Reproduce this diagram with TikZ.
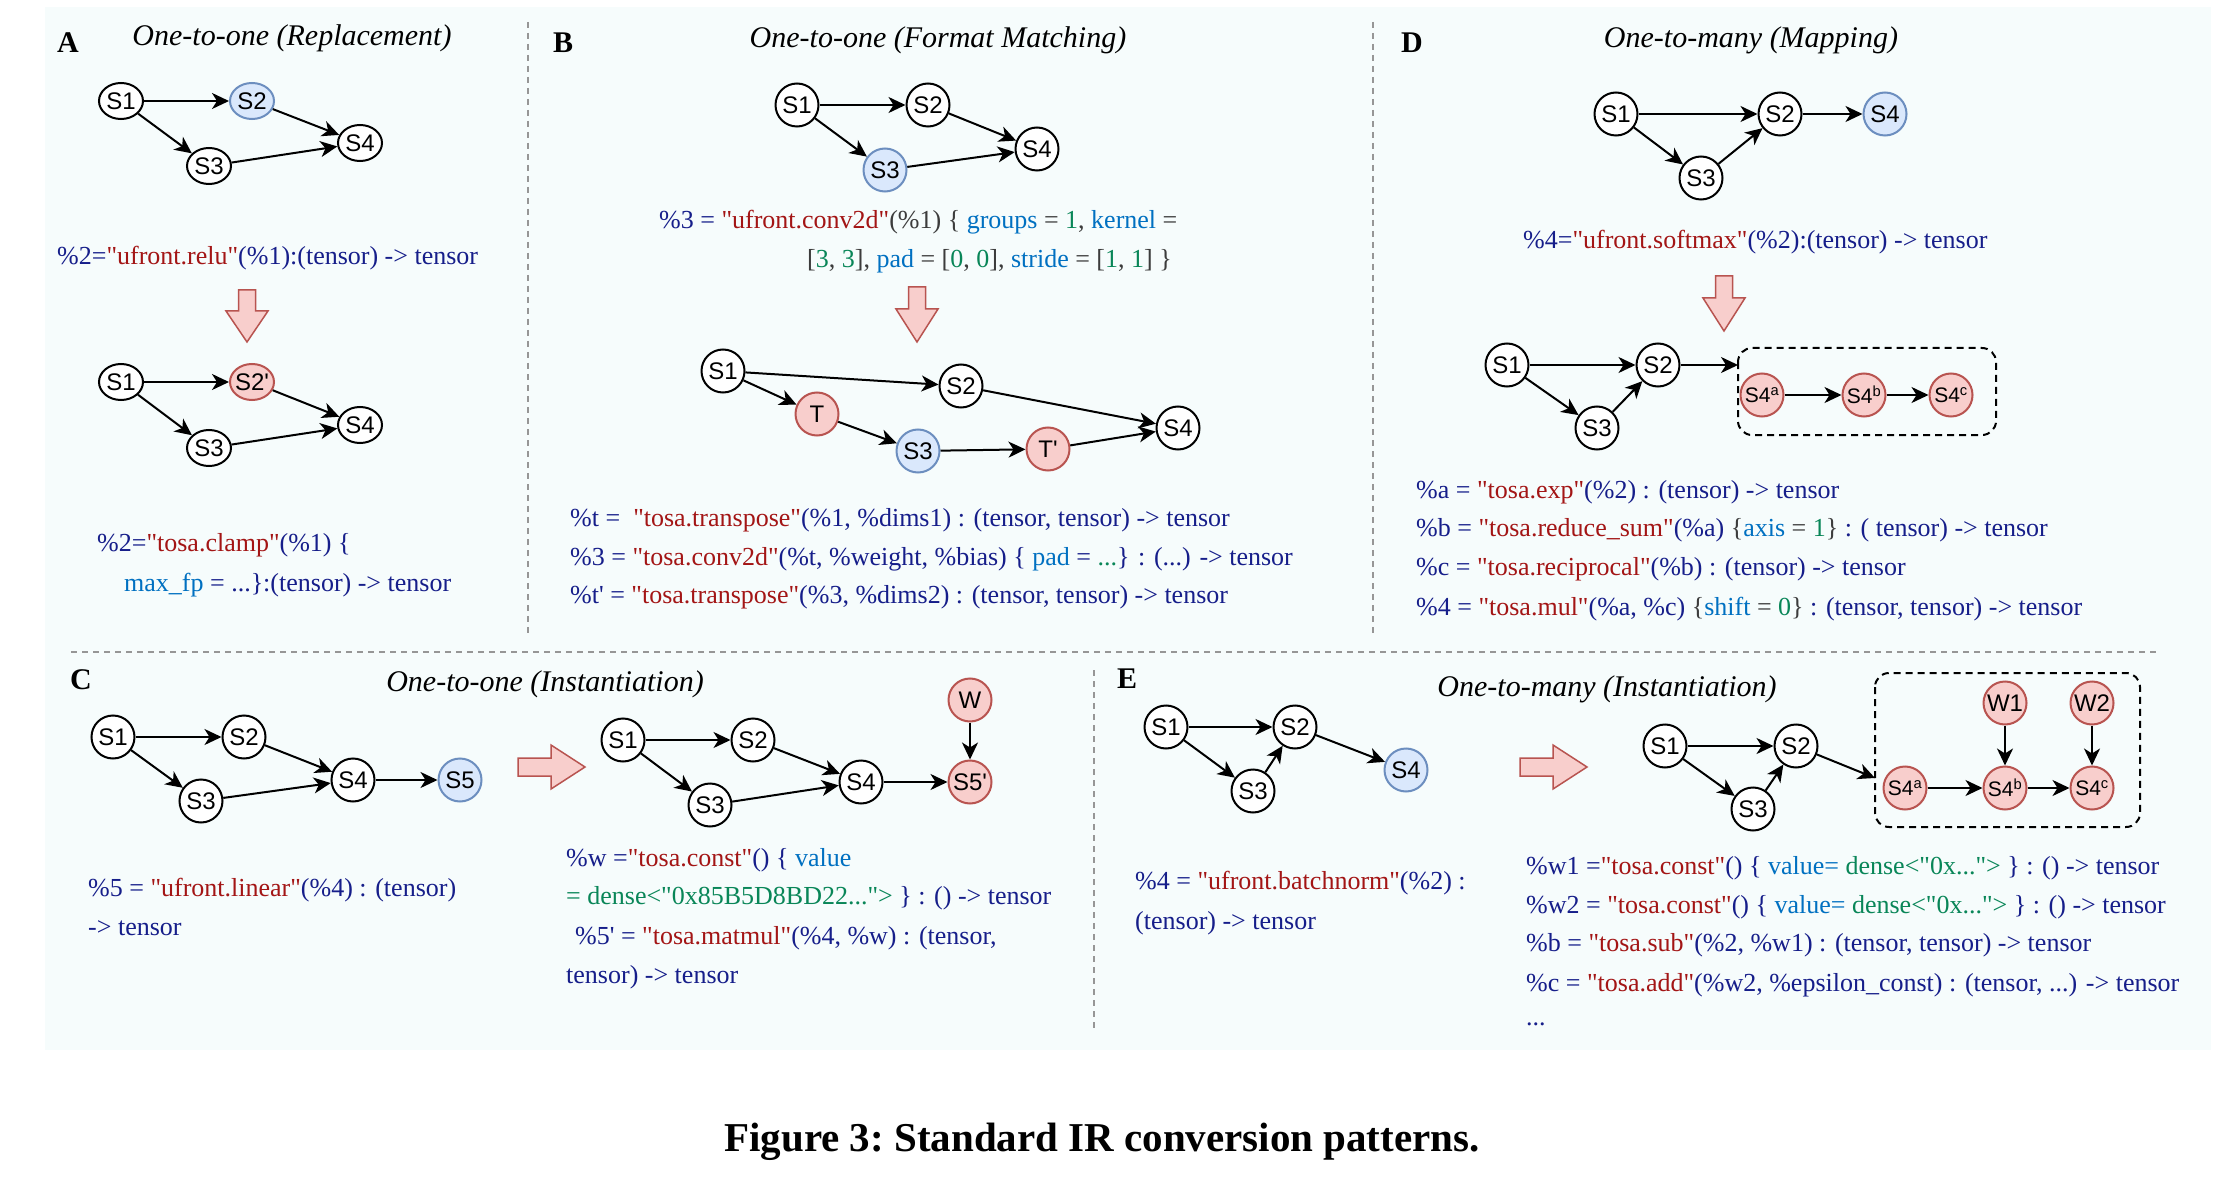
\documentclass[tikz,border=0pt]{standalone}
\usepackage{fontspec}
\setmainfont{Liberation Serif}[Ligatures=TeXOff]
\newfontfamily\nodefont{Liberation Sans}
\usetikzlibrary{arrows.meta,shapes.geometric}

\definecolor{panelbg}{RGB}{246,252,252}
\definecolor{nodeblue}{RGB}{218,232,252}
\definecolor{nodeblueline}{RGB}{108,142,191}
\definecolor{nodered}{RGB}{248,206,204}
\definecolor{noderedline}{RGB}{184,84,80}
\definecolor{sepgray}{RGB}{150,150,150}
\definecolor{varblue}{RGB}{22,30,138}
\definecolor{strred}{RGB}{163,21,21}
\definecolor{keyblue}{RGB}{0,112,193}
\definecolor{numgreen}{RGB}{9,134,88}
\definecolor{pungray}{RGB}{60,60,60}

\newcommand{\cstr}[1]{\textcolor{strred}{#1}}
\newcommand{\ckey}[1]{\textcolor{keyblue}{#1}}
\newcommand{\cnum}[1]{\textcolor{numgreen}{#1}}
\newcommand{\cpun}[1]{\textcolor{pungray}{#1}}

\tikzset{
  opnode/.style={ellipse, draw, line width=2pt, fill=white, minimum width=43pt,
    minimum height=43pt, inner sep=0pt, font=\nodefont\fontsize{24}{28}\selectfont,
    execute at begin node=\hbox to 0pt\bgroup\hss,
    execute at end node=\hss\egroup},
  flatnode/.style={minimum width=44pt, minimum height=36pt},
  partnode/.style={font=\nodefont\fontsize{21}{25}\selectfont},
  bluenode/.style={fill=nodeblue, draw=nodeblueline},
  rednode/.style={fill=nodered, draw=noderedline},
  flow/.style={line width=2pt, -{Stealth[length=17pt,width=16pt,inset=5pt]}},
  code/.style={anchor=west, inner sep=0pt, text=varblue, font=\fontsize{26}{31}\selectfont},
  paneltitle/.style={font=\itshape\fontsize{30}{36}\selectfont},
  panelletter/.style={font=\bfseries\fontsize{30}{36}\selectfont},
  sepline/.style={draw=sepgray, line width=1.5pt, dash pattern=on 6pt off 5pt},
  groupbox/.style={draw, line width=2pt, dash pattern=on 7pt off 5pt, rounded corners=14pt},
  bigarrow/.style={fill=nodered, draw=noderedline, line width=1.5pt},
}

\begin{document}
\begin{tikzpicture}[x=1pt,y=-1pt]
  \useasboundingbox (0,0) rectangle (2236,1190);
  \fill[panelbg] (45,7) rectangle (2211,1050);

  % Drawing separators
  \draw[sepline] (528,22) -- (528,635);
  \draw[sepline] (1373,22) -- (1373,635);
  \draw[sepline] (71,652) -- (2158,652);
  \draw[sepline] (1094,670) -- (1094,1030);

  % Panel A: one-to-one replacement
  \node[panelletter] (lA) at (68,43) {A};
  \node[paneltitle] (tA) at (292,38) {One-to-one (Replacement)};
  \node[opnode,flatnode] (a1) at (121,101) {S1};
  \node[opnode,flatnode,bluenode] (a2) at (252,101) {S2};
  \node[opnode,flatnode] (a4) at (360,143) {S4};
  \node[opnode,flatnode] (a3) at (209,166) {S3};
  \draw[flow] (a1) -- (a2);
  \draw[flow] (a1) -- (a3);
  \draw[flow] (a2) -- (a4);
  \draw[flow] (a3) -- (a4);
  \node[code] (ca1) at (57,258) {\%2=\cstr{"ufront.relu"}(\%1):(tensor) -> tensor};
  \draw[bigarrow] (238.5,290) -- ++(17,0) -- ++(0,21) -- ++(12.5,0) -- ++(-21,31)
    -- ++(-21,-31) -- ++(12.5,0) -- cycle;
  \node[opnode,flatnode] (ar1) at (121,382) {S1};
  \node[opnode,flatnode,rednode] (ar2) at (252,382) {S2\textquotesingle};
  \node[opnode,flatnode] (ar4) at (360,425) {S4};
  \node[opnode,flatnode] (ar3) at (209,448) {S3};
  \draw[flow] (ar1) -- (ar2);
  \draw[flow] (ar1) -- (ar3);
  \draw[flow] (ar2) -- (ar4);
  \draw[flow] (ar3) -- (ar4);
  \node[code] (ca2) at (97,545) {\%2=\cstr{"tosa.clamp"}(\%1) \{};
  \node[code] (ca3) at (124,585) {\ckey{max\_fp} = ...\}:(tensor) -> tensor};

  % Panel B: one-to-one format matching
  \node[panelletter] (lB) at (563,43) {B};
  \node[paneltitle] (tB) at (938,40) {One-to-one (Format Matching)};
  \node[opnode] (b1) at (797,105) {S1};
  \node[opnode] (b2) at (928,105) {S2};
  \node[opnode] (b4) at (1037,149) {S4};
  \node[opnode,bluenode] (b3) at (885,170) {S3};
  \draw[flow] (b1) -- (b2);
  \draw[flow] (b1) -- (b3);
  \draw[flow] (b2) -- (b4);
  \draw[flow] (b3) -- (b4);
  \node[code] (cb1) at (659,222) {\%3 = \cstr{"ufront.conv2d"}\cpun{(\%1) \{} \ckey{groups} \cpun{=} \cnum{1}\cpun{,} \ckey{kernel} \cpun{=}};
  \node[code] (cb2) at (807,261) {\cpun{[}\cnum{3}\cpun{,} \cnum{3}\cpun{],} \ckey{pad} \cpun{= [}\cnum{0}\cpun{,} \cnum{0}\cpun{],} \ckey{stride} \cpun{= [}\cnum{1}\cpun{,} \cnum{1}\cpun{] \}}};
  \draw[bigarrow] (908.5,287) -- ++(17,0) -- ++(0,22) -- ++(12.5,0) -- ++(-21,33)
    -- ++(-21,-33) -- ++(12.5,0) -- cycle;
  \node[opnode] (br1) at (723,371) {S1};
  \node[opnode,rednode] (brt) at (817,414) {T};
  \node[opnode] (br2) at (961,386) {S2};
  \node[opnode,bluenode] (br3) at (918,451) {S3};
  \node[opnode,rednode] (brtp) at (1048,449) {T\textquotesingle};
  \node[opnode] (br4) at (1178,428) {S4};
  \draw[flow] (br1) -- (br2);
  \draw[flow] (br1) -- (brt);
  \draw[flow] (brt) -- (br3);
  \draw[flow] (br3) -- (brtp);
  \draw[flow] (brtp) -- (br4);
  \draw[flow] (br2) -- (br4);
  \node[code] (cb3) at (570,520) {\%t =\ \ \cstr{"tosa.transpose"}(\%1, \%dims1) : (tensor, tensor) -> tensor};
  \node[code] (cb4) at (570,559) {\%3 = \cstr{"tosa.conv2d"}(\%t, \%weight, \%bias) \{ \ckey{pad} = \cnum{...}\} : (...) -> tensor};
  \node[code] (cb5) at (570,597) {\%t\textquotesingle{} = \cstr{"tosa.transpose"}(\%3, \%dims2) : (tensor, tensor) -> tensor};

  % Panel D: one-to-many mapping
  \node[panelletter] (lD) at (1412,43) {D};
  \node[paneltitle] (tD) at (1751,40) {One-to-many (Mapping)};
  \node[opnode] (d1) at (1616,114) {S1};
  \node[opnode] (d2) at (1780,114) {S2};
  \node[opnode,bluenode] (d4) at (1885,114) {S4};
  \node[opnode] (d3) at (1701,178) {S3};
  \draw[flow] (d1) -- (d2);
  \draw[flow] (d1) -- (d3);
  \draw[flow] (d3) -- (d2);
  \draw[flow] (d2) -- (d4);
  \node[code] (cd1) at (1523,242) {\%4=\cstr{"ufront.softmax"}(\%2):(tensor) -> tensor};
  \draw[bigarrow] (1715.5,276) -- ++(17,0) -- ++(0,22) -- ++(12.5,0) -- ++(-21,33)
    -- ++(-21,-33) -- ++(12.5,0) -- cycle;
  \node[opnode] (dr1) at (1507,365) {S1};
  \node[opnode] (dr2) at (1658,365) {S2};
  \node[opnode] (dr3) at (1597,428) {S3};
  \draw[groupbox] (1738,348) rectangle (1996,435);
  \coordinate (dIn) at (1738,365);
  \node[opnode,rednode,partnode] (dra) at (1762,395) {S4\textsuperscript{a}};
  \node[opnode,rednode,partnode] (drb) at (1864,395) {S4\textsuperscript{b}};
  \node[opnode,rednode,partnode] (drc) at (1951,395) {S4\textsuperscript{c}};
  \draw[flow] (dr1) -- (dr2);
  \draw[flow] (dr1) -- (dr3);
  \draw[flow] (dr3) -- (dr2);
  \draw[flow] (dr2) -- (dIn);
  \draw[flow] (dra) -- (drb);
  \draw[flow] (drb) -- (drc);
  \node[code] (cd2) at (1416,492) {\%a = \cstr{"tosa.exp"}(\%2) : (tensor) -> tensor};
  \node[code] (cd3) at (1416,530) {\%b = \cstr{"tosa.reduce\_sum"}(\%a) \cpun{\{}\ckey{axis} \cpun{=} \cnum{1}\cpun{\}} : ( tensor) -> tensor};
  \node[code] (cd4) at (1416,569) {\%c = \cstr{"tosa.reciprocal"}(\%b) : (tensor) -> tensor};
  \node[code] (cd5) at (1416,609) {\%4 = \cstr{"tosa.mul"}(\%a, \%c) \cpun{\{}\ckey{shift} \cpun{=} \cnum{0}\cpun{\}} : (tensor, tensor) -> tensor};

  % Panel C: one-to-one instantiation
  \node[panelletter] (lC) at (81,680) {C};
  \node[paneltitle] (tC) at (545,684) {One-to-one (Instantiation)};
  \node[opnode] (c1) at (113,737) {S1};
  \node[opnode] (c2) at (244,737) {S2};
  \node[opnode] (c4) at (353,780) {S4};
  \node[opnode] (c3) at (201,801) {S3};
  \node[opnode,bluenode] (c5) at (460,780) {S5};
  \draw[flow] (c1) -- (c2);
  \draw[flow] (c1) -- (c3);
  \draw[flow] (c2) -- (c4);
  \draw[flow] (c3) -- (c4);
  \draw[flow] (c4) -- (c5);
  \draw[bigarrow] (518,758) -- ++(33,0) -- ++(0,-13) -- ++(34,22) -- ++(-34,22)
    -- ++(0,-13) -- ++(-33,0) -- cycle;
  \node[opnode] (cr1) at (623,740) {S1};
  \node[opnode] (cr2) at (753,740) {S2};
  \node[opnode] (cr4) at (861,782) {S4};
  \node[opnode] (cr3) at (710,805) {S3};
  \node[opnode,rednode] (cr5) at (970,782) {S5\textquotesingle};
  \node[opnode,rednode] (crw) at (970,700) {W};
  \draw[flow] (cr1) -- (cr2);
  \draw[flow] (cr1) -- (cr3);
  \draw[flow] (cr2) -- (cr4);
  \draw[flow] (cr3) -- (cr4);
  \draw[flow] (cr4) -- (cr5);
  \draw[flow] (crw) -- (cr5);
  \node[code] (cc1) at (88,890) {\%5 = \cstr{"ufront.linear"}(\%4) : (tensor)};
  \node[code] (cc2) at (88,928) {-> tensor};
  \node[code] (cc3) at (566,860) {\%w =\cstr{"tosa.const"}() \{ \ckey{value}};
  \node[code] (cc4) at (566,898) {\cnum{= dense<"0x85B5D8BD22...">} \} : () -> tensor};
  \node[code] (cc5) at (575,938) {\%5\textquotesingle{} = \cstr{"tosa.matmul"}(\%4, \%w) : (tensor,};
  \node[code] (cc6) at (566,977) {tensor) -> tensor};

  % Panel E: one-to-many instantiation
  \node[panelletter] (lE) at (1127,679) {E};
  \node[paneltitle] (tE) at (1607,689) {One-to-many (Instantiation)};
  \node[opnode] (e1) at (1166,727) {S1};
  \node[opnode] (e2) at (1295,727) {S2};
  \node[opnode] (e3) at (1253,791) {S3};
  \node[opnode,bluenode] (e4) at (1406,770) {S4};
  \draw[flow] (e1) -- (e2);
  \draw[flow] (e1) -- (e3);
  \draw[flow] (e3) -- (e2);
  \draw[flow] (e2) -- (e4);
  \draw[bigarrow] (1520,758) -- ++(33,0) -- ++(0,-13) -- ++(34,22) -- ++(-34,22)
    -- ++(0,-13) -- ++(-33,0) -- cycle;
  \node[opnode] (er1) at (1665,746) {S1};
  \node[opnode] (er2) at (1796,746) {S2};
  \node[opnode] (er3) at (1753,809) {S3};
  \draw[groupbox] (1875,673) rectangle (2140,827);
  \coordinate (eIn) at (1875,778);
  \node[opnode,rednode] (erw1) at (2005,703) {W1};
  \node[opnode,rednode] (erw2) at (2092,703) {W2};
  \node[opnode,rednode,partnode] (era) at (1905,788) {S4\textsuperscript{a}};
  \node[opnode,rednode,partnode] (erb) at (2005,788) {S4\textsuperscript{b}};
  \node[opnode,rednode,partnode] (erc) at (2092,788) {S4\textsuperscript{c}};
  \draw[flow] (er1) -- (er2);
  \draw[flow] (er1) -- (er3);
  \draw[flow] (er3) -- (er2);
  \draw[flow] (er2) -- (eIn);
  \draw[flow] (era) -- (erb);
  \draw[flow] (erb) -- (erc);
  \draw[flow] (erw1) -- (erb);
  \draw[flow] (erw2) -- (erc);
  \node[code] (ce1) at (1135,883) {\%4 = \cstr{"ufront.batchnorm"}(\%2) :};
  \node[code] (ce2) at (1135,923) {(tensor) -> tensor};
  \node[code] (ce3) at (1526,868) {\%w1 =\cstr{"tosa.const"}() \{ \ckey{value=} \cnum{dense<"0x...">} \} : () -> tensor};
  \node[code] (ce4) at (1526,907) {\%w2 = \cstr{"tosa.const"}() \{ \ckey{value=} \cnum{dense<"0x...">} \} : () -> tensor};
  \node[code] (ce5) at (1526,945) {\%b = \cstr{"tosa.sub"}(\%2, \%w1) : (tensor, tensor) -> tensor};
  \node[code] (ce6) at (1526,985) {\%c = \cstr{"tosa.add"}(\%w2, \%epsilon\_const) : (tensor, ...) -> tensor};
  \node[code] (ce7) at (1526,1024) {...};

  % Caption
  \node[font=\bfseries\frenchspacing\fontsize{41}{48}\selectfont] (cap) at (1102,1142) {Figure 3: Standard IR conversion patterns.};
\end{tikzpicture}
\end{document}
